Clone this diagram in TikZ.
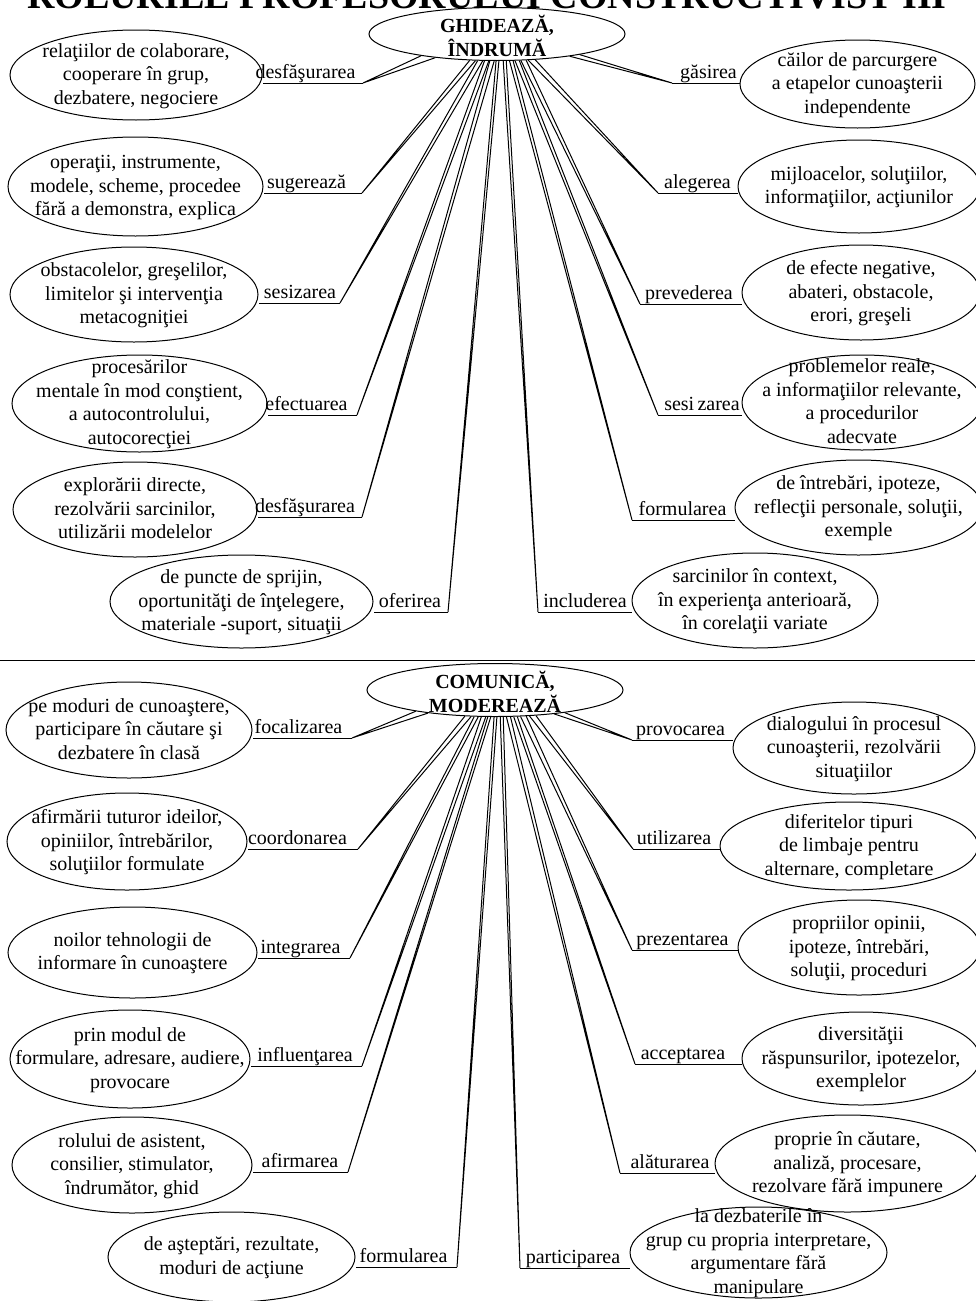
\documentclass[tikz,border=0pt]{standalone}
\usepackage{fontspec}
\setmainfont{Liberation Serif}
\usetikzlibrary{shapes.geometric}

\newcommand{\ovtext}[2][-3pt]{\makebox[0pt]{\smash{\raisebox{#1}{\begin{tabular}{@{}c@{}}#2\end{tabular}}}}}

\tikzset{
    leaf/.style 2 args={draw, ellipse, inner sep=0pt, minimum width=#1*0.5pt, minimum height=#2*0.5pt},
    hub/.style={draw, ellipse, inner sep=0pt, minimum width=128pt, minimum height=26.5pt, font=\bfseries\fontsize{10}{10.5}\selectfont},
    lab/.style={inner sep=0pt, anchor=base},
}

\begin{document}
\begin{tikzpicture}[x=0.5pt, y=-0.5pt, line width=0.5pt, every node/.style={font=\fontsize{10}{11.75}\selectfont}]
    \useasboundingbox (0,0) rectangle (975,1301);
    \node[anchor=base, font=\bfseries\fontsize{19}{20}\selectfont] (title) at (487,9) {ROLURILE PROFESORULUI CONSTRUCTIVIST III};

    \node[hub] (g) at (497,34) {\ovtext[-5pt]{GHIDEAZĂ,\\ ÎNDRUMĂ}};

    \node[leaf={252}{90}] (l1) at (136,75) {\ovtext{relaţiilor de colaborare,\\ cooperare în grup,\\ dezbatere, negociere}};
    \node[leaf={255}{99}] (l2) at (135.5,186.5) {\ovtext{operaţii, instrumente,\\ modele, scheme, procedee\\ fără a demonstra, explica}};
    \node[leaf={248}{95}] (l3) at (134,294.5) {\ovtext{obstacolelor, greşelilor,\\ limitelor şi intervenţia\\ metacogniţiei}};
    \node[leaf={255}{97}] (l4) at (139.5,403.5) {\ovtext{procesărilor\\ mentale în mod conştient,\\ a autocontrolului,\\ autocorecţiei}};
    \node[leaf={244}{95}] (l5) at (135,509.5) {\ovtext{explorării directe,\\ rezolvării sarcinilor,\\ utilizării modelelor}};
    \node[leaf={263}{93}] (l6) at (241.5,601.5) {\ovtext{de puncte de sprijin,\\ oportunităţi de înţelegere,\\ materiale -suport, situaţii}};

    \node[leaf={235}{88}] (r1) at (857.5,84) {\ovtext{căilor de parcurgere\\ a etapelor cunoaşterii\\ independente}};
    \node[leaf={242}{93}] (r2) at (859,186.5) {\ovtext{mijloacelor, soluţiilor,\\ informaţiilor, acţiunilor}};
    \node[leaf={238}{95}] (r3) at (861,292.5) {\ovtext{de efecte negative,\\ abateri, obstacole,\\ erori, greşeli}};
    \node[leaf={240}{95}] (r4) at (862,402.5) {\ovtext{problemelor reale,\\ a informaţiilor relevante,\\ a procedurilor\\ adecvate}};
    \node[leaf={247}{95}] (r5) at (858.5,507.5) {\ovtext{de întrebări, ipoteze,\\ reflecţii personale, soluţii,\\ exemple}};
    \node[leaf={246}{95}] (r6) at (755,600.5) {\ovtext{sarcinilor în context,\\ în experienţa anterioară,\\ în corelaţii variate}};

    \node[lab] (l1t) at (305.5,78) {desfăşurarea};
    \node[lab] (l2t) at (306.5,188) {sugerează};
    \node[lab] (l3t) at (300,298) {sesizarea};
    \node[lab] (l4t) at (306.5,410) {efectuarea};
    \node[lab] (l5t) at (305,512) {desfăşurarea};
    \node[lab] (l6t) at (410,607) {oferirea};
    \node[lab] (r1t) at (708.5,78) {găsirea};
    \node[lab] (r2t) at (697.5,188) {alegerea};
    \node[lab] (r3t) at (689,299) {prevederea};
    \node[lab] (r4t) at (702,410) {sesi\,zarea};
    \node[lab] (r5t) at (682.5,515) {formularea};
    \node[lab] (r6t) at (585,607) {includerea};

    \coordinate (l1k) at (363,83);
    \coordinate (l2k) at (362,193);
    \coordinate (l3k) at (340,303);
    \coordinate (l4k) at (357,415);
    \coordinate (l5k) at (362,517);
    \coordinate (l6k) at (448,612);
    \coordinate (r1k) at (672,83);
    \coordinate (r2k) at (658,193);
    \coordinate (r3k) at (640,304);
    \coordinate (r4k) at (658,415);
    \coordinate (r5k) at (632,520);
    \coordinate (r6k) at (538,612);

    \draw (g.196) -- (l1k) -- (g.201);
    \draw (g.224) -- (l2k) -- (g.231);
    \draw (g.234) -- (l3k) -- (g.242);
    \draw (g.245) -- (l4k) -- (g.253);
    \draw (g.255) -- (l5k) -- (g.264);
    \draw (g.268) -- (l6k) -- (g.274);
    \draw (g.283) -- (r6k) -- (g.289);
    \draw (g.295) -- (r5k) -- (g.301);
    \draw (g.304) -- (r4k) -- (g.310);
    \draw (g.312) -- (r3k) -- (g.318);
    \draw (g.320) -- (r2k) -- (g.326);
    \draw (g.343) -- (r1k) -- (g.346);
    \draw (l1k) -- (l1k -| l1.east);
    \draw (l2k) -- (l2k -| l2.east);
    \draw (l3k) -- (l3k -| l3.east);
    \draw (l4k) -- (l4k -| l4.east);
    \draw (l5k) -- (l5k -| l5.east);
    \draw (l6k) -- (l6k -| l6.east);
    \draw (r1k) -- (r1k -| r1.west);
    \draw (r2k) -- (r2k -| r2.west);
    \draw (r3k) -- (r3k -| r3.west);
    \draw (r4k) -- (r4k -| r4.west);
    \draw (r5k) -- (r5k -| r5.west);
    \draw (r6k) -- (r6k -| r6.west);

    \draw (0,660) -- (975,660);

    \node[hub] (c) at (495,690) {\ovtext[-5pt]{COMUNICĂ,\\ MODEREAZĂ}};

    \node[leaf={246}{96}] (bl1) at (129,730) {\ovtext{pe moduri de cunoaştere,\\ participare în căutare şi\\ dezbatere în clasă}};
    \node[leaf={240}{97}] (bl2) at (127,841.5) {\ovtext{afirmării tuturor ideilor,\\ opiniilor, întrebărilor,\\ soluţiilor formulate}};
    \node[leaf={249}{91}] (bl3) at (132.5,952.5) {\ovtext{noilor tehnologii de\\ informare în cunoaştere}};
    \node[leaf={240}{98}] (bl4) at (130,1059) {\ovtext{prin modul de\\ formulare, adresare, audiere,\\ provocare}};
    \node[leaf={240}{96}] (bl5) at (132,1165) {\ovtext{rolului de asistent,\\ consilier, stimulator,\\ îndrumător, ghid}};
    \node[leaf={247}{90}] (bl6) at (231.5,1257) {\ovtext{de aşteptări, rezultate,\\ moduri de acţiune}};

    \node[leaf={242}{92}] (br1) at (854,748) {\ovtext{dialogului în procesul\\ cunoaşterii, rezolvării\\ situaţiilor}};
    \node[leaf={258}{88}] (br2) at (849,846) {\ovtext{diferitelor tipuri\\ de limbaje pentru\\ alternare, completare}};
    \node[leaf={242}{95}] (br3) at (859,947.5) {\ovtext{propriilor opinii,\\ ipoteze, întrebări,\\ soluţii, proceduri}};
    \node[leaf={238}{93}] (br4) at (861,1058.5) {\ovtext{diversităţii\\ răspunsurilor, ipotezelor,\\ exemplelor}};
    \node[leaf={265}{97}] (br5) at (847.5,1163.5) {\ovtext{proprie în căutare,\\ analiză, procesare,\\ rezolvare fără impunere}};
    \node[leaf={257}{91}] (br6) at (758.5,1252.5) {\ovtext{la dezbaterile în\\ grup cu propria interpretare,\\ argumentare fără\\ manipulare}};

    \node[lab] (bl1t) at (298.5,733) {focalizarea};
    \node[lab] (bl2t) at (297.5,844) {coordonarea};
    \node[lab] (bl3t) at (300.5,953) {integrarea};
    \node[lab] (bl4t) at (305,1061) {influenţarea};
    \node[lab] (bl5t) at (300,1167) {afirmarea};
    \node[lab] (bl6t) at (403.5,1262) {formularea};
    \node[lab] (br1t) at (680.5,735) {provocarea};
    \node[lab] (br2t) at (674,844) {utilizarea};
    \node[lab] (br3t) at (682.5,945) {prezentarea};
    \node[lab] (br4t) at (683,1059) {acceptarea};
    \node[lab] (br5t) at (670,1168) {alăturarea};
    \node[lab] (br6t) at (573,1263) {participarea};

    \coordinate (bl1k) at (352,738);
    \coordinate (bl2k) at (358,849);
    \coordinate (bl3k) at (350,958);
    \coordinate (bl4k) at (362,1066);
    \coordinate (bl5k) at (348,1172);
    \coordinate (bl6k) at (457,1267);
    \coordinate (br1k) at (632,740);
    \coordinate (br2k) at (633,849);
    \coordinate (br3k) at (632,950);
    \coordinate (br4k) at (635,1064);
    \coordinate (br5k) at (620,1173);
    \coordinate (br6k) at (520,1268);

    \draw (c.195) -- (bl1k) -- (c.199);
    \draw (c.221) -- (bl2k) -- (c.228);
    \draw (c.232) -- (bl3k) -- (c.238);
    \draw (c.243) -- (bl4k) -- (c.251);
    \draw (c.255) -- (bl5k) -- (c.261);
    \draw (c.268) -- (bl6k) -- (c.274);
    \draw (c.281) -- (br6k) -- (c.287);
    \draw (c.293) -- (br5k) -- (c.300);
    \draw (c.305) -- (br4k) -- (c.310);
    \draw (c.314) -- (br3k) -- (c.320);
    \draw (c.323) -- (br2k) -- (c.328);
    \draw (c.338) -- (br1k) -- (c.342);
    \draw (bl1k) -- (bl1k -| bl1.east);
    \draw (bl2k) -- (bl2k -| bl2.east);
    \draw (bl3k) -- (bl3k -| bl3.east);
    \draw (bl4k) -- (bl4k -| bl4.east);
    \draw (bl5k) -- (bl5k -| bl5.east);
    \draw (bl6k) -- (bl6k -| bl6.east);
    \draw (br1k) -- (br1k -| br1.west);
    \draw (br2k) -- (br2k -| br2.west);
    \draw (br3k) -- (br3k -| br3.west);
    \draw (br4k) -- (br4k -| br4.west);
    \draw (br5k) -- (br5k -| br5.west);
    \draw (br6k) -- (br6k -| br6.west);
\end{tikzpicture}
\end{document}
